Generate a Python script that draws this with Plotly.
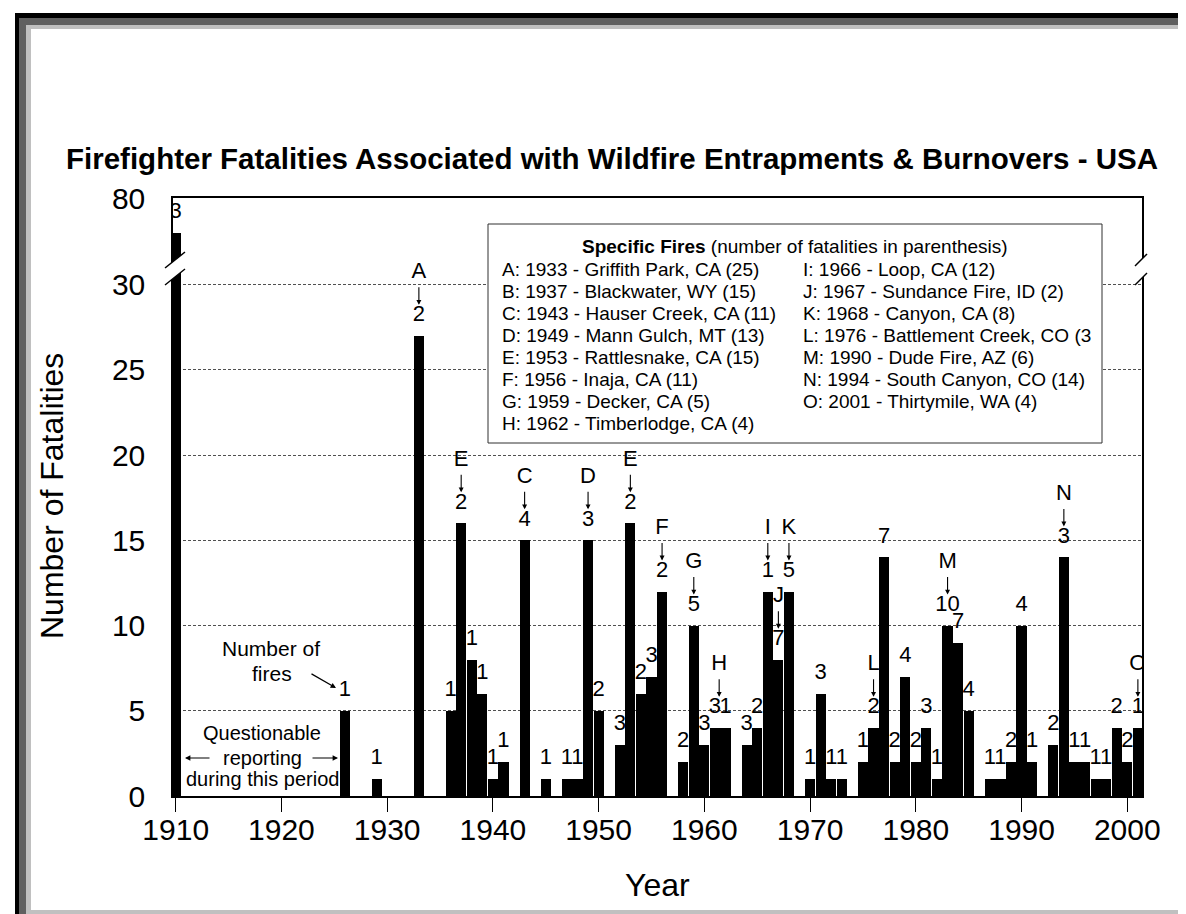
import plotly.graph_objects as go

# ---------------- data ----------------
years = [1910, 1926, 1929, 1933, 1936, 1937, 1938, 1939, 1940, 1941,
         1943, 1945, 1947, 1948, 1949, 1950, 1952, 1953, 1954, 1955,
         1956, 1958, 1959, 1960, 1961, 1962, 1964, 1965, 1966, 1967,
         1968, 1970, 1971, 1972, 1973, 1975, 1976, 1977, 1978, 1979,
         1980, 1981, 1982, 1983, 1984, 1985, 1987, 1988, 1989, 1990,
         1991, 1993, 1994, 1995, 1996, 1997, 1998, 1999, 2000, 2001]
fatalities = [60, 5, 1, 27, 5, 16, 8, 6, 1, 2,
              15, 1, 1, 1, 15, 5, 3, 16, 6, 7,
              12, 2, 10, 3, 4, 4, 3, 4, 12, 8,
              12, 1, 6, 1, 1, 2, 4, 14, 2, 7,
              2, 4, 1, 10, 9, 5, 1, 1, 2, 10,
              2, 3, 14, 2, 2, 1, 1, 4, 2, 4]
fires = [3, 1, 1, 2, 1, 2, 1, 1, 1, 1,
         4, 1, 1, 1, 3, 2, 3, 2, 2, 3,
         2, 2, 5, 3, 3, 1, 3, 2, 1, 7,
         5, 1, 3, 1, 1, 1, 2, 7, 2, 4,
         2, 3, 1, 10, 7, 4, 1, 1, 2, 4,
         1, 2, 3, 1, 1, 1, 1, 2, 2, 1]

letter_x = [1933, 1937, 1943, 1949, 1953, 1956, 1959, 1961.4, 1966, 1967,
            1968, 1976, 1983, 1994, 2001]
letters = ["A", "E", "C", "D", "E", "F", "G", "H", "I", "J",
           "K", "L", "M", "N", "O"]

legend_title = "<b>Specific Fires</b> (number of fatalities in parenthesis)"
legend_left = ["A: 1933 - Griffith Park, CA (25)",
               "B: 1937 - Blackwater, WY (15)",
               "C: 1943 - Hauser Creek, CA (11)",
               "D: 1949 - Mann Gulch, MT (13)",
               "E: 1953 - Rattlesnake, CA (15)",
               "F: 1956 - Inaja, CA (11)",
               "G: 1959 - Decker, CA (5)",
               "H: 1962 - Timberlodge, CA (4)"]
legend_right = ["I: 1966 - Loop, CA (12)",
                "J: 1967 - Sundance Fire, ID (2)",
                "K: 1968 - Canyon, CA (8)",
                "L: 1976 - Battlement Creek, CO (3",
                "M: 1990 - Dude Fire, AZ (6)",
                "N: 1994 - South Canyon, CO (14)",
                "O: 2001 - Thirtymile, WA (4)"]

x_tick_values = [1910, 1920, 1930, 1940, 1950, 1960, 1970, 1980, 1990, 2000]
y_tick_values = [0, 5, 10, 15, 20, 25, 30, 80]

title_text = ("<b>Firefighter Fatalities Associated with Wildfire "
              "Entrapments &amp; Burnovers - USA</b>")

# ---------------- broken axis mapping ----------------
BREAK_AT = 30
AXIS_TOP = 80
DISPLAY_TOP = 35.09


def disp(v):
    if v <= BREAK_AT:
        return v
    return BREAK_AT + (v - BREAK_AT) * (DISPLAY_TOP - BREAK_AT) / (AXIS_TOP - BREAK_AT)


# ---------------- layout geometry (pixels) ----------------
W, H = 1186, 914
L, R, T, B = 165, 1134, 190, 788
PX_PER_UNIT = (B - T) / DISPLAY_TOP
FONT = "Liberation Sans, Arial, sans-serif"


def px(x):
    return (x - L) / (R - L)


def py(y):
    return (B - y) / (B - T)


def path(points):
    return "M " + " L ".join(f"{px(a):.5f},{py(b):.5f}" for a, b in points) + " Z"


fig = go.Figure()
fig.add_bar(x=years, y=[disp(v) for v in fatalities], width=0.96,
            marker=dict(color="black", line=dict(width=0)), hoverinfo="x+y")

# number of fires above each bar (clipped to the plot area like the original)
fig.add_scatter(x=years, y=[disp(v) + 20 / PX_PER_UNIT for v in fatalities],
                text=[str(n) for n in fires], mode="text", textposition="middle center",
                textfont=dict(size=22, color="black", family=FONT),
                hoverinfo="skip", cliponaxis=True)

# letters marking specific fires
bar_lookup = dict(zip(years, fatalities))
letter_base = [disp(bar_lookup[int(lx)]) for lx in letter_x]
fig.add_scatter(x=letter_x, y=[b + 63 / PX_PER_UNIT for b in letter_base],
                text=letters, mode="text", textposition="middle center",
                textfont=dict(size=22, color="black", family=FONT),
                hoverinfo="skip", cliponaxis=True)

ann = []
for lx, b in zip(letter_x, letter_base):
    ann.append(dict(x=lx, y=b, xref="x", yref="y", text="", showarrow=True,
                    ax=0, ay=-19, axref="pixel", ayref="pixel", yshift=31,
                    arrowhead=2, arrowsize=0.9, arrowwidth=1.1, arrowcolor="black"))


def note(x, y, text, size=21, **kw):
    d = dict(x=px(x), y=py(y), xref="paper", yref="paper", text=text, showarrow=False,
             xanchor="center", yanchor="middle", font=dict(size=size, color="black", family=FONT))
    d.update(kw)
    ann.append(d)


note(263, 640, "Number of")
note(264, 665, "fires")
note(254, 725, "Questionable", size=20)
note(254, 750, "reporting", size=20)
note(254, 771, "during this period", size=20)


def arrow(x0, y0, x1, y1):
    ann.append(dict(x=px(x1), y=py(y1), xref="paper", yref="paper", text="",
                    showarrow=True, ax=x0 - x1, ay=y0 - y1, axref="pixel", ayref="pixel",
                    arrowhead=2, arrowsize=0.9, arrowwidth=1.2, arrowcolor="black"))


arrow(302, 665, 328, 680)
arrow(203, 750, 177, 750)
arrow(303, 750, 330, 750)

# legend box texts
note(787, 239, legend_title, size=19)
for i, t in enumerate(legend_left):
    note(492, 261 + 22 * i, t, size=19, xanchor="left")
for i, t in enumerate(legend_right):
    note(793, 261 + 22 * i, t, size=19, xanchor="left")

# titles
note(604, 150, title_text, size=29.5)
note(649.5, 877, "Year", size=32)
note(44, 488, "Number of Fatalities", size=32, textangle=-90)

shapes = []


def rect(x0, y0, x1, y1, color, layer="below", line=None):
    shapes.append(dict(type="rect", xref="paper", yref="paper", x0=px(x0), x1=px(x1),
                       y0=py(y0), y1=py(y1), fillcolor=color, layer=layer,
                       line=line or dict(width=0)))


# outer frame
rect(7, 5, W + 2, H + 2, "#606060")
rect(7, 5, 11, H + 2, "#000000")
rect(7, 5, W + 2, 10, "#000000")
rect(18, 17, 1182, 906, "#c0c0c0")
rect(23, 21, 1178, 902, "#ffffff")
# legend box
rect(480, 216, 1094, 435, "#ffffff", layer="above", line=dict(color="#303030", width=1))

# axis breaks
for (xa, xb) in [(157, 177), (1127, 1139)]:
    ua, ub = (260, 244) if xa < 500 else (258, 246)
    la, lb = (277, 261) if xa < 500 else (277, 265)
    shapes.append(dict(type="path", xref="paper", yref="paper", layer="above",
                       path=path([(xa, ua), (xb, ub), (xb, lb), (xa, la)]),
                       fillcolor="white", line=dict(width=0)))
    for (ya, yb) in [(ua, ub), (la, lb)]:
        shapes.append(dict(type="line", xref="paper", yref="paper", layer="above",
                           x0=px(xa), y0=py(ya), x1=px(xb), y1=py(yb),
                           line=dict(color="black", width=1.5)))

fig.update_layout(
    width=W, height=H, showlegend=False,
    margin=dict(l=L, r=W - R, t=T, b=H - B),
    paper_bgcolor="white", plot_bgcolor="white",
    font=dict(family=FONT, color="black"),
    bargap=0,
    annotations=ann, shapes=shapes,
    xaxis=dict(range=[1909.745, 2001.39], tickvals=x_tick_values,
               ticks="outside", ticklen=14, tickwidth=1, tickcolor="black",
               ticklabelstandoff=-8,
               showline=True, linecolor="black", linewidth=1.5, mirror=True,
               showgrid=False, zeroline=False, tickfont=dict(size=30, family=FONT)),
    yaxis=dict(range=[0, DISPLAY_TOP], tickvals=[disp(v) for v in y_tick_values],
               ticktext=[str(v) for v in y_tick_values],
               ticks="outside", ticklen=20, tickcolor="rgba(0,0,0,0)",
               showline=True, linecolor="black", linewidth=1.5, mirror=True,
               showgrid=True, gridcolor="#505050", gridwidth=1, griddash="3px,2px",
               zeroline=False, tickfont=dict(size=30, family=FONT)),
)

fig.write_html("out.html")
